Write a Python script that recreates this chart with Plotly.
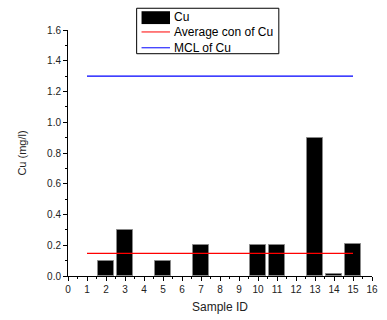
import plotly.graph_objects as go

sample_ids = [1, 2, 3, 4, 5, 6, 7, 8, 9, 10, 11, 12, 13, 14, 15]
cu_values = [None, 0.1, 0.3, None, 0.1, None, 0.2, None, None, 0.2, 0.2, None, 0.9, 0.01, 0.21]
avg_x = [1, 15]
avg_y = [0.147, 0.147]
mcl_x = [1, 15]
mcl_y = [1.3, 1.3]
legend_labels = ["Cu", "Average con of Cu", "MCL of Cu"]

FONT = "Liberation Sans, Arial, sans-serif"

fig = go.Figure()
fig.add_trace(go.Bar(x=sample_ids, y=cu_values, name=legend_labels[0], width=0.85,
                     marker=dict(color="black", line=dict(color="#888888", width=1))))
fig.add_trace(go.Scatter(x=avg_x, y=avg_y, mode="lines", name=legend_labels[1],
                         line=dict(color="red", width=1.3)))
fig.add_trace(go.Scatter(x=mcl_x, y=mcl_y, mode="lines", name=legend_labels[2],
                         line=dict(color="blue", width=1.3)))

# manual legend (paper coordinates)
fig.add_shape(type="rect", xref="paper", yref="paper", x0=0.2258, x1=0.6935, y0=0.9036, y1=1.0884,
              line=dict(color="black", width=1), fillcolor="white", layer="above")
fig.add_shape(type="rect", xref="paper", yref="paper", x0=0.2419, x1=0.3355, y0=1.0241, y1=1.0763,
              line=dict(color="black", width=0), fillcolor="black", layer="above")
fig.add_shape(type="line", xref="paper", yref="paper", x0=0.2419, x1=0.3355, y0=0.992, y1=0.992,
              line=dict(color="red", width=1), layer="above")
fig.add_shape(type="line", xref="paper", yref="paper", x0=0.2419, x1=0.3355, y0=0.9277, y1=0.9277,
              line=dict(color="blue", width=1), layer="above")
for lab, yy in zip(legend_labels, [1.052, 0.992, 0.928]):
    fig.add_annotation(text=lab, xref="paper", yref="paper", x=0.343, y=yy,
                       xanchor="left", yanchor="middle", showarrow=False,
                       font=dict(size=12, family=FONT, color="black"))

fig.update_layout(
    width=387, height=320,
    margin=dict(l=68, r=9, t=30, b=41),
    plot_bgcolor="white", paper_bgcolor="white",
    font=dict(family=FONT, size=10, color="#222222"),
    bargap=0,
    showlegend=False,
)
fig.update_xaxes(range=[0, 16], tickmode="linear", tick0=0, dtick=1,
                 showline=True, linecolor="black", linewidth=1,
                 ticks="outside", ticklen=4, tickcolor="black",
                 minor=dict(ticks="outside", ticklen=2, dtick=0.5, tickcolor="black"),
                 showgrid=False, zeroline=False,
                 title=dict(text="Sample ID", font=dict(size=12), standoff=8))
fig.update_yaxes(range=[0, 1.6], tickmode="linear", tick0=0, dtick=0.2,
                 tickformat=".1f",
                 showline=True, linecolor="black", linewidth=1,
                 ticks="outside", ticklen=4, tickcolor="black",
                 minor=dict(ticks="outside", ticklen=2, dtick=0.1, tickcolor="black"),
                 showgrid=False, zeroline=False,
                 title=dict(text="Cu (mg/l)", font=dict(size=11), standoff=18))

fig.write_html("out.html")
